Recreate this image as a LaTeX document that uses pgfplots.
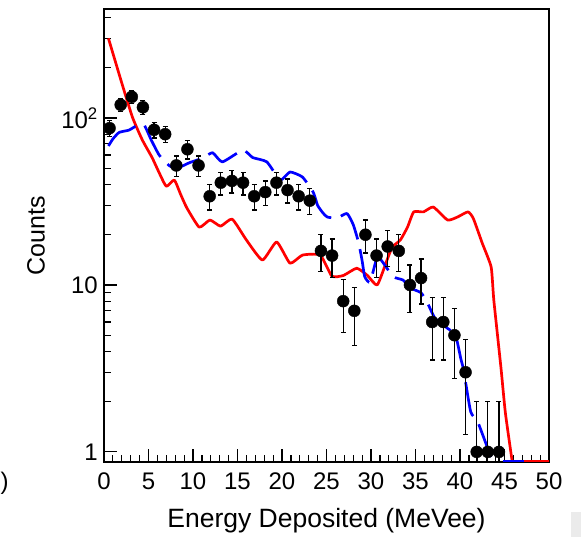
\documentclass[border=0pt]{standalone}
\usepackage{pgfplots}
\pgfplotsset{compat=1.18}
\usepackage{pgfplotstable}
\usepackage{fontspec}
\setmainfont{Liberation Sans}

\pgfplotstableread{
x y ep em
0.625 87 9.33 9.33
1.875 120 10.95 10.95
3.125 134 11.58 11.58
4.375 116 10.77 10.77
5.625 85 9.22 9.22
6.875 80 8.94 8.94
8.125 52 7.21 7.21
9.375 65 8.06 8.06
10.625 52 7.21 7.21
11.875 34 5.83 5.83
13.125 41 6.40 6.40
14.375 42 6.48 6.48
15.625 41 6.40 6.40
16.875 34 5.83 5.83
18.125 36 6.00 6.00
19.375 41 6.40 6.40
20.625 37 6.08 6.08
21.875 34 5.83 5.83
23.125 32 5.66 5.66
24.375 16 4.00 4.00
25.625 15 3.87 3.87
26.875 8 2.83 2.83
28.125 7 2.65 2.65
29.375 20 4.47 4.47
30.625 15 3.87 3.87
31.875 17 4.12 4.12
33.125 16 4.00 4.00
34.375 10 3.16 3.16
35.625 11 3.32 3.32
36.875 6 2.45 2.45
38.125 6 2.45 2.45
39.375 5 2.24 2.24
40.625 3 1.73 1.73
41.875 1 1.00 0.95
43.125 1 1.00 0.95
44.375 1 1.00 0.95
}\datatable

\begin{document}
\begin{tikzpicture}
\useasboundingbox (-104pt,-75pt) rectangle (477pt,462pt);
\fill[black!8] (467pt,-75pt) rectangle (477pt,-50pt);
\node[anchor=west, inner sep=0pt, font=\fontsize{24}{24}\selectfont] at (-103.5pt,-21pt) {)};
\begin{axis}[
  at={(0pt,0pt)}, anchor=south west,
  scale only axis, width=445pt, height=453pt,
  xmin=0, xmax=50, ymode=log, ymin=0.87, ymax=450,
  axis line style={line width=1.3pt, black},
  xtick={0,5,10,15,20,25,30,35,40,45,50},
  xticklabels={0,5,10,15,20,25,30,35,40,45,50},
  minor xtick={1,2,...,49},
  ytick={1,10,100},
  yticklabels={1,10,{10\textsuperscript{2}}},
  minor ytick={2,3,4,5,6,7,8,9,20,30,40,50,60,70,80,90,200,300,400},
  tick align=inside, xtick pos=bottom, ytick pos=left,
  major tick length=13pt, minor tick length=7pt,
  every tick/.style={line width=1.2pt, black},
  ticklabel style={font=\fontsize{24}{24}\selectfont},
  xticklabel style={inner sep=0pt, yshift=-11pt},
  yticklabel style={inner sep=0pt, xshift=-6pt},
  xlabel={Energy Deposited (MeVee)},
  ylabel={Counts},
  xlabel style={font=\fontsize{26.5}{26.5}\selectfont, at={(axis description cs:0.5,-0.13)}, anchor=center},
  ylabel style={font=\fontsize{25}{25}\selectfont, at={(axis description cs:-0.153,0.5)}, anchor=center},
  clip mode=individual,
]
\addplot[red, line width=2.7pt, line join=round, smooth, tension=0.3] coordinates {
(0.5,300) (2.0,162) (3.2,101) (4.3,74) (5.4,58) (6.2,47) (7.0,39) (7.9,42.5)
(8.6,35) (9.3,29) (10.7,22.2) (11.9,24.5) (13.1,22.5) (14.4,24.8) (16.0,18.6)
(17.8,14.1) (19.4,18.1) (20.9,13.5) (22.3,15.1) (24.3,15.1) (25.6,11.3)
(26.9,11.4) (28.4,12.6) (29.6,11.4) (30.7,10.0) (31.8,14.1) (32.4,16.9)
(33.3,18.6) (34.1,22.2) (34.8,27.4) (35.9,27.4) (37.0,29.3) (38.6,24.5)
(39.7,25.5) (40.9,27.4) (41.5,25) (42.5,17.8) (43.5,12.8) (43.8,8.1)
(44.6,3.2) (45.1,1.71) (45.9,0.85)
};
\addplot[red, line width=2.7pt] coordinates {(47.2,0.875) (50,0.875)};
\addplot[blue, line width=2.7pt, line join=round, smooth, tension=0.3, dash pattern=on 35pt off 10pt] coordinates {
(0.5,68) (1.0,75) (1.7,82) (2.8,84.6) (3.6,89.5) (4.5,91) (5.3,74) (6.2,60)
(7.3,52) (8.2,50) (9.6,54) (11.1,57.6) (12.2,62) (13.3,54.6) (15.6,64.3)
(16.7,58) (18.3,54.6) (19.8,42.5) (20.9,47.5) (22.3,44.3) (23.5,36) (24.0,30)
(24.6,27) (25.1,25.5) (26.2,25.2) (27.3,26.8) (28.0,23) (28.6,18) (29.0,14)
(29.3,11.2) (29.9,10.4) (30.7,14.7) (31.4,13.5) (32.5,11.2) (33.6,10.7)
(34.4,9.6) (35.6,9.0) (36.3,7.9) (37.2,6.3) (38.6,5.5) (39.5,5.0) (40.1,3.6)
(40.4,3.1) (41.2,1.74) (42.0,1.51) (43.5,0.92) (43.6,0.85)
};
\addplot[blue, line width=2.7pt] coordinates {(44.8,0.875) (47.2,0.875)};
\addplot[only marks, mark=*, mark size=6pt, black,
  error bars/.cd, y dir=both, y explicit,
  error bar style={line width=1.3pt, black},
  error mark options={rotate=90, mark size=2.5pt, line width=1.3pt, black}]
  table[x=x, y=y, y error plus=ep, y error minus=em] {\datatable};
\end{axis}
\end{tikzpicture}
\end{document}
